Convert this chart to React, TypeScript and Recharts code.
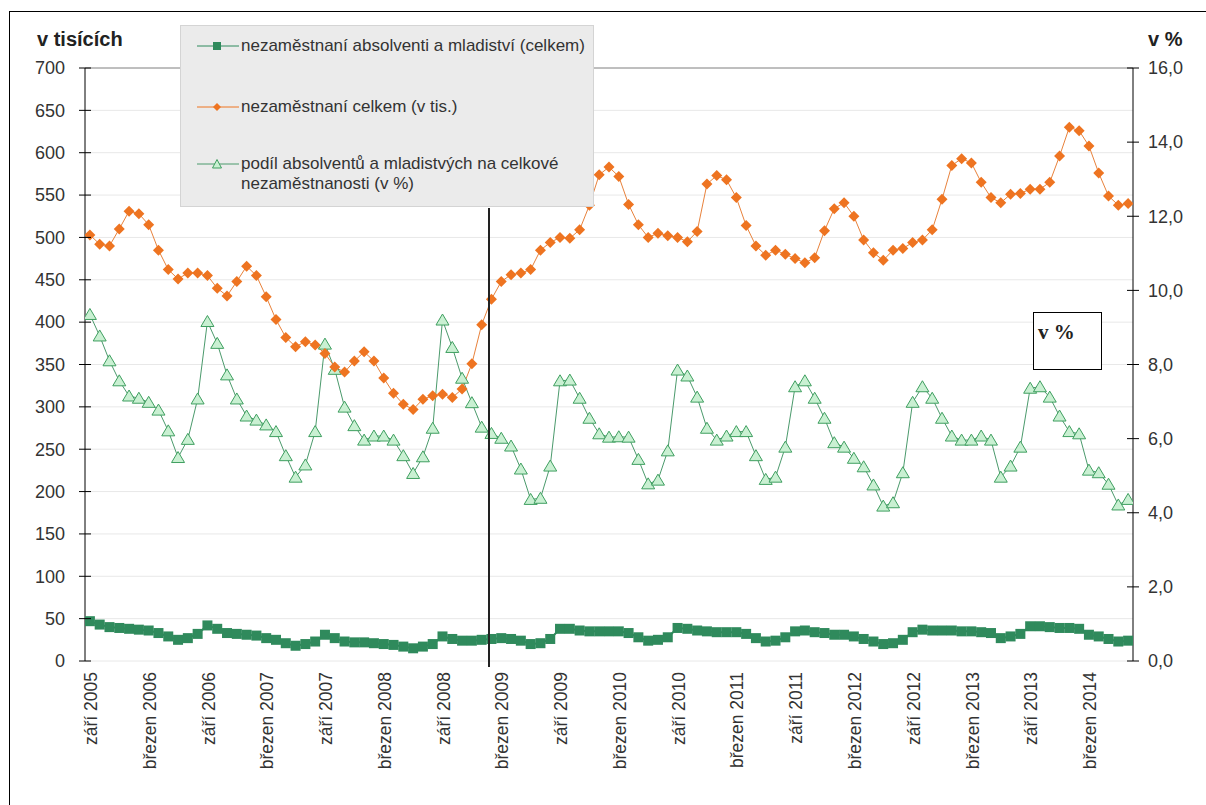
import React from "react";
import { LineChart, Line, XAxis, YAxis, CartesianGrid, ReferenceLine } from "recharts";

// monthly series, září 2005 – červenec 2014
const monthLabels = [
  "září 2005", "březen 2006", "září 2006", "březen 2007", "září 2007", "březen 2008",
  "září 2008", "březen 2009", "září 2009", "březen 2010", "září 2010", "březen 2011",
  "září 2011", "březen 2012", "září 2012", "březen 2013", "září 2013", "březen 2014",
];
const labelStep = 6;

// nezaměstnaní celkem (v tis.)
const totalUnemployed = [
  503, 492, 490, 510, 531, 528, 515, 485, 462, 451,
  458, 458, 455, 440, 431, 448, 466, 455, 430, 403,
  382, 371, 377, 373, 363, 347, 341, 354, 365, 354,
  334, 316, 303, 297, 309, 313, 315, 311, 321, 351,
  397, 427, 448, 456, 458, 462, 485, 494, 500, 499,
  509, 538, 574, 583, 572, 539, 515, 500, 505, 502,
  500, 495, 507, 563, 573, 568, 547, 514, 490, 479,
  485, 480, 475, 470, 476, 508, 534, 541, 525, 497,
  482, 473, 485, 487, 494, 497, 509, 545, 585, 593,
  588, 565, 547, 541, 551, 552, 557, 557, 565, 596,
  630, 626, 608, 576, 549, 538, 540,
];

// podíl absolventů a mladistvých (v %)
const graduatesShare = [
  9.35, 8.77, 8.1, 7.56, 7.15, 7.09, 6.98, 6.77, 6.21, 5.49,
  5.98, 7.07, 9.16, 8.57, 7.72, 7.07, 6.61, 6.5, 6.37, 6.19,
  5.54, 4.96, 5.29, 6.19, 8.55, 7.87, 6.85, 6.35, 5.96, 6.07,
  6.07, 5.96, 5.54, 5.06, 5.51, 6.28, 9.2, 8.46, 7.63, 6.97,
  6.31, 6.14, 6.01, 5.8, 5.18, 4.36, 4.39, 5.26, 7.56, 7.58,
  7.09, 6.55, 6.13, 6.04, 6.05, 6.04, 5.44, 4.78, 4.88, 5.67,
  7.85, 7.69, 7.12, 6.28, 5.96, 6.07, 6.19, 6.19, 5.54, 4.9,
  4.96, 5.77, 7.4, 7.56, 7.09, 6.55, 5.89, 5.77, 5.47, 5.24,
  4.75, 4.18, 4.27, 5.08, 6.98, 7.4, 7.09, 6.55, 6.07, 5.96,
  5.96, 6.07, 5.96, 4.96, 5.26, 5.77, 7.36, 7.4, 7.12, 6.61,
  6.19, 6.13, 5.15, 5.08, 4.77, 4.21, 4.36,
];

// nezaměstnaní absolventi a mladiství (v tis.)
const graduatesCount = [
  47, 43, 40, 39, 38, 37, 36, 33, 29, 25,
  27, 32, 42, 38, 33, 32, 31, 30, 27, 25,
  21, 18, 20, 23, 31, 27, 23, 22, 22, 21,
  20, 19, 17, 15, 17, 20, 29, 26, 24, 24,
  25, 26, 27, 26, 24, 20, 21, 26, 38, 38,
  36, 35, 35, 35, 35, 33, 28, 24, 25, 28,
  39, 38, 36, 35, 34, 34, 34, 32, 27, 23,
  24, 28, 35, 36, 34, 33, 31, 31, 29, 26,
  23, 20, 21, 25, 34, 37, 36, 36, 36, 35,
  35, 34, 33, 27, 29, 32, 41, 41, 40, 39,
  39, 38, 31, 29, 26, 23, 24,
];

const leftTicks = [0, 50, 100, 150, 200, 250, 300, 350, 400, 450, 500, 550, 600, 650, 700];
const rightTicks = [0, 2, 4, 6, 8, 10, 12, 14, 16];

const data = totalUnemployed.map((v, i) => ({
  idx: i,
  total: v,
  share: graduatesShare[i],
  grads: graduatesCount[i],
}));
const minorTicks = Array.from({ length: data.length + 1 }, (_, i) => i - 0.5);
const labelTicks = monthLabels.map((_, i) => i * labelStep);
const xDomain = [-0.5, data.length - 0.5];

const FONT = "'Liberation Sans', Arial, sans-serif";
const ORANGE = "#ee7421";
const DARK_GREEN = "#2f8a5c";
const TRI_STROKE = "#3f9f60";

function Diamond(p: any) {
  const { cx, cy, index } = p;
  if (cx == null || cy == null) return <g key={index} />;
  return (
    <path
      key={index}
      d={`M${cx} ${cy - 5.5}L${cx + 5.5} ${cy}L${cx} ${cy + 5.5}L${cx - 5.5} ${cy}Z`}
      fill={ORANGE}
    />
  );
}

function Tri(p: any) {
  const { cx, cy, index } = p;
  if (cx == null || cy == null) return <g key={index} />;
  return (
    <path
      key={index}
      d={`M${cx} ${cy - 6}L${cx + 6.5} ${cy + 5}L${cx - 6.5} ${cy + 5}Z`}
      fill="#c9f0d2"
      stroke={TRI_STROKE}
      strokeWidth={1}
    />
  );
}

function Sq(p: any) {
  const { cx, cy, index } = p;
  if (cx == null || cy == null) return <g key={index} />;
  return <rect key={index} x={cx - 5} y={cy - 5} width={10} height={10} fill={DARK_GREEN} />;
}

function MinorTick(p: any) {
  const { x, y } = p;
  return <line x1={x} x2={x} y1={y - 5} y2={y + 5} stroke="#000" strokeWidth={1} />;
}

function MonthTick(p: any) {
  const { x, y, payload } = p;
  const label = monthLabels[Math.round(payload.value / labelStep)];
  const ty = y + 11;
  return (
    <text
      x={x + 1}
      y={ty}
      dy="0.35em"
      transform={`rotate(-90 ${x + 1} ${ty})`}
      textAnchor="end"
      fontFamily={FONT}
      fontSize={17.5}
      fill="#333"
    >
      {label}
    </text>
  );
}

function LeftTick(p: any) {
  const { x, y, payload } = p;
  return (
    <g>
      <line x1={x - 6} x2={x + 6} y1={y} y2={y} stroke="#000" />
      <text x={x - 20} y={y} dy="0.35em" textAnchor="end" fontFamily={FONT} fontSize={18} fill="#333">
        {payload.value}
      </text>
    </g>
  );
}

function RightTick(p: any) {
  const { x, y, payload } = p;
  return (
    <g>
      <line x1={x - 6} x2={x + 6} y1={y} y2={y} stroke="#000" />
      <text x={x + 15} y={y} dy="0.35em" textAnchor="start" fontFamily={FONT} fontSize={18} fill="#333">
        {payload.value.toFixed(1).replace(".", ",")}
      </text>
    </g>
  );
}

function LegendIcon({ kind }: { kind: string }) {
  return (
    <svg width={42} height={14} style={{ position: "absolute", left: 16, top: -7 }}>
      <line x1={0} x2={42} y1={7} y2={7} stroke={kind === "diamond" ? ORANGE : kind === "sq" ? DARK_GREEN : "#4b9a6c"} />
      {kind === "sq" && <rect x={16} y={3} width={8} height={8} fill={DARK_GREEN} />}
      {kind === "diamond" && <path d="M20 3L24 7L20 11L16 7Z" fill={ORANGE} />}
      {kind === "tri" && <path d="M20 2.5L24.5 11L15.5 11Z" fill="#c9f0d2" stroke={TRI_STROKE} />}
    </svg>
  );
}

const legendItems = [
  { kind: "sq", top: 20, text: "nezaměstnaní absolventi a mladiství (celkem)" },
  { kind: "diamond", top: 81, text: "nezaměstnaní celkem (v tis.)" },
  { kind: "tri", top: 138, text: "podíl absolventů a mladistvých na celkové\nnezaměstnanosti (v %)" },
];

export default function App() {
  return (
    <div
      style={{
        position: "absolute",
        left: 0,
        top: 0,
        width: 1206,
        height: 805,
        background: "#fff",
        overflow: "hidden",
        fontFamily: FONT,
      }}
    >
      <div
        style={{
          position: "absolute",
          left: 9,
          top: 11,
          width: 1220,
          height: 820,
          border: "1px solid #000",
          boxSizing: "border-box",
        }}
      />
      <LineChart
        width={1206}
        height={805}
        data={data}
        margin={{ top: 68, right: 0, bottom: 0, left: 0 }}
        style={{ position: "absolute", left: 0, top: 0 }}
      >
        <CartesianGrid xAxisId="minor" yAxisId="left" vertical={false} stroke="#e8e8e8" />
        <XAxis
          xAxisId="minor"
          type="number"
          dataKey="idx"
          domain={xDomain}
          ticks={minorTicks}
          interval={0}
          height={0}
          tickLine={false}
          tickSize={0}
          tickMargin={0}
          tick={<MinorTick />}
          axisLine={{ stroke: "#000" }}
          allowDataOverflow
        />
        <XAxis
          xAxisId="lab"
          type="number"
          dataKey="idx"
          domain={xDomain}
          ticks={labelTicks}
          interval={0}
          height={144}
          tickLine={false}
          tickSize={0}
          tickMargin={0}
          tick={<MonthTick />}
          axisLine={false}
          allowDataOverflow
        />
        <YAxis
          yAxisId="left"
          domain={[0, 700]}
          ticks={leftTicks}
          interval={0}
          width={85}
          tickLine={false}
          tickSize={0}
          tickMargin={0}
          tick={<LeftTick />}
          axisLine={{ stroke: "#000" }}
        />
        <YAxis
          yAxisId="right"
          orientation="right"
          domain={[0, 16]}
          ticks={rightTicks}
          interval={0}
          width={73}
          tickLine={false}
          tickSize={0}
          tickMargin={0}
          tick={<RightTick />}
          axisLine={{ stroke: "#000" }}
        />
        <ReferenceLine xAxisId="minor" yAxisId="left" y={700} stroke="#8a8a8a" />
        <Line
          xAxisId="minor"
          yAxisId="right"
          dataKey="share"
          stroke="#4b9a6c"
          strokeWidth={1}
          dot={Tri}
          activeDot={false}
          isAnimationActive={false}
        />
        <Line
          xAxisId="minor"
          yAxisId="left"
          dataKey="grads"
          stroke={DARK_GREEN}
          strokeWidth={2}
          dot={Sq}
          activeDot={false}
          isAnimationActive={false}
        />
        <Line
          xAxisId="minor"
          yAxisId="left"
          dataKey="total"
          stroke="#e8823c"
          strokeWidth={1}
          dot={Diamond}
          activeDot={false}
          isAnimationActive={false}
        />
      </LineChart>

      {/* break marker */}
      <div style={{ position: "absolute", left: 488, top: 208, width: 1.5, height: 459, background: "#222" }} />

      <div style={{ position: "absolute", left: 37, top: 28, fontSize: 20, fontWeight: "bold", color: "#222" }}>
        v tisících
      </div>
      <div style={{ position: "absolute", left: 1148, top: 28, fontSize: 20, fontWeight: "bold", color: "#222" }}>
        v %
      </div>

      <div
        style={{
          position: "absolute",
          left: 180,
          top: 25,
          width: 414,
          height: 182,
          background: "#ebebeb",
          border: "1px solid #d4d4d4",
          boxSizing: "border-box",
        }}
      >
        {legendItems.map((it) => (
          <div key={it.kind} style={{ position: "absolute", left: 0, top: it.top, width: "100%" }}>
            <LegendIcon kind={it.kind} />
            <div
              style={{
                position: "absolute",
                left: 60,
                top: -10,
                fontSize: 17,
                lineHeight: "20px",
                color: "#333",
                whiteSpace: "pre",
              }}
            >
              {it.text}
            </div>
          </div>
        ))}
      </div>

      <div
        style={{
          position: "absolute",
          left: 1033,
          top: 312,
          width: 69,
          height: 58,
          border: "1px solid #000",
          boxSizing: "border-box",
          background: "#fff",
          fontFamily: "'Liberation Serif', 'Times New Roman', serif",
          fontSize: 21,
          fontWeight: "bold",
          lineHeight: "22px",
          padding: "8px 0 0 4px",
          color: "#222",
        }}
      >
        v %
      </div>
    </div>
  );
}
